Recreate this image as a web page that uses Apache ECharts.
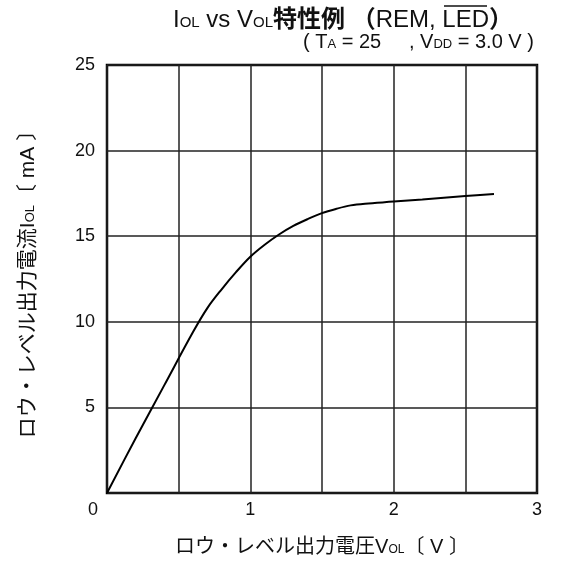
<!DOCTYPE html>
<html>
<head>
<meta charset="utf-8">
<script src="https://cdn.jsdelivr.net/npm/echarts@6/dist/echarts.min.js"></script>
<style>html,body{margin:0;padding:0;background:#fff;}#c{width:561px;height:565px;}</style>
</head>
<body>
<div id="c"></div>
<script>
// Data
const vol = [0, 0.2, 0.4, 0.6, 0.7, 0.8, 0.9, 1.0, 1.1, 1.2, 1.3, 1.4, 1.5, 1.6, 1.7, 1.8, 2.0, 2.2, 2.5, 2.7];
const iol = [0, 3.2, 6.3, 9.4, 10.8, 11.9, 12.9, 13.8, 14.5, 15.1, 15.6, 16.0, 16.35, 16.6, 16.8, 16.9, 17.02, 17.15, 17.35, 17.47];
const xTicks = [0, 1, 2, 3];
const yTicks = [5, 10, 15, 20, 25];

const FONT = '"Liberation Sans", Arial, "Noto Sans CJK JP", sans-serif';
const chart = echarts.init(document.getElementById('c'));
const points = vol.map((v, i) => [v, iol[i]]);

chart.setOption({
  backgroundColor: '#fff',
  animation: false,
  title: [{
    left: 168, top: 3,
    text: '{n|I}{s|OL}{n| vs V}{s|OL}{b|特性例 （}{n|REM, LED}{b|）}',
    textStyle: {
      fontWeight: 'normal',
      rich: {
        n: {fontFamily: FONT, fontSize: 24, fontWeight: 'normal', color: '#111', verticalAlign: 'bottom'},
        s: {fontFamily: FONT, fontSize: 15, fontWeight: 'normal', color: '#111', verticalAlign: 'bottom', padding: [0, 0, 2, 0]},
        b: {fontFamily: FONT, fontSize: 24, fontWeight: 'bold', color: '#111', verticalAlign: 'bottom'}
      }
    }
  }, {
    left: 298, top: 27,
    text: '{n|( T}{s|A}{n| = 25     , V}{s|DD}{n| = 3.0 V )}',
    textStyle: {
      fontWeight: 'normal',
      rich: {
        n: {fontFamily: FONT, fontSize: 20, fontWeight: 'normal', color: '#111', verticalAlign: 'bottom'},
        s: {fontFamily: FONT, fontSize: 13, fontWeight: 'normal', color: '#111', verticalAlign: 'bottom', padding: [0, 0, 1.5, 0]}
      }
    }
  }],
  graphic: [{
    type: 'line', shape: {x1: 444, y1: 6, x2: 487, y2: 6},
    style: {stroke: '#111', lineWidth: 1.5}
  }],
  grid: {left: 107, right: 24, top: 65, bottom: 72, show: true, borderColor: '#000', borderWidth: 2.5, backgroundColor: 'transparent', containLabel: false},
  xAxis: {
    type: 'value', min: 0, max: 3, interval: 0.5,
    name: '{n|ロウ・レベル出力電圧V}{s|OL}{n|〔 V 〕}',
    nameLocation: 'middle', nameGap: 44,
    nameTextStyle: {rich: {
      n: {fontFamily: FONT, fontSize: 20, color: '#111', verticalAlign: 'bottom'},
      s: {fontFamily: FONT, fontSize: 12, color: '#111', verticalAlign: 'bottom', padding: [0, 0, 1.7, 0]}
    }},
    axisLine: {show: false}, axisTick: {show: false},
    axisLabel: {
      margin: 8, color: '#111', fontFamily: FONT, fontSize: 18,
      formatter: function (v) {
        if (!xTicks.includes(v)) return '';
        return v === 0 ? '{z|0}' : String(v);
      },
      rich: {z: {fontFamily: FONT, fontSize: 18, color: '#111', padding: [0, 28, 0, 0]}}
    },
    splitLine: {show: true, lineStyle: {color: '#222', width: 1.5}}
  },
  yAxis: {
    type: 'value', min: 0, max: 25, interval: 5,
    name: '{n|ロウ・レベル出力電流I}{s|OL}{n|〔 mA 〕}',
    nameLocation: 'middle', nameGap: 68,
    nameTextStyle: {rich: {
      n: {fontFamily: FONT, fontSize: 21, color: '#111', verticalAlign: 'bottom'},
      s: {fontFamily: FONT, fontSize: 13, color: '#111', verticalAlign: 'bottom', padding: [0, 0, 1.7, 0]}
    }},
    axisLine: {show: false}, axisTick: {show: false},
    axisLabel: {
      margin: 12, color: '#111', fontFamily: FONT, fontSize: 18,
      formatter: function (v) { return yTicks.includes(v) ? String(v) : ''; }
    },
    splitLine: {show: true, lineStyle: {color: '#222', width: 1.5}}
  },
  series: [{
    type: 'line', data: points, smooth: 0.35, showSymbol: false,
    lineStyle: {color: '#000', width: 2}
  }]
});
</script>
</body>
</html>
